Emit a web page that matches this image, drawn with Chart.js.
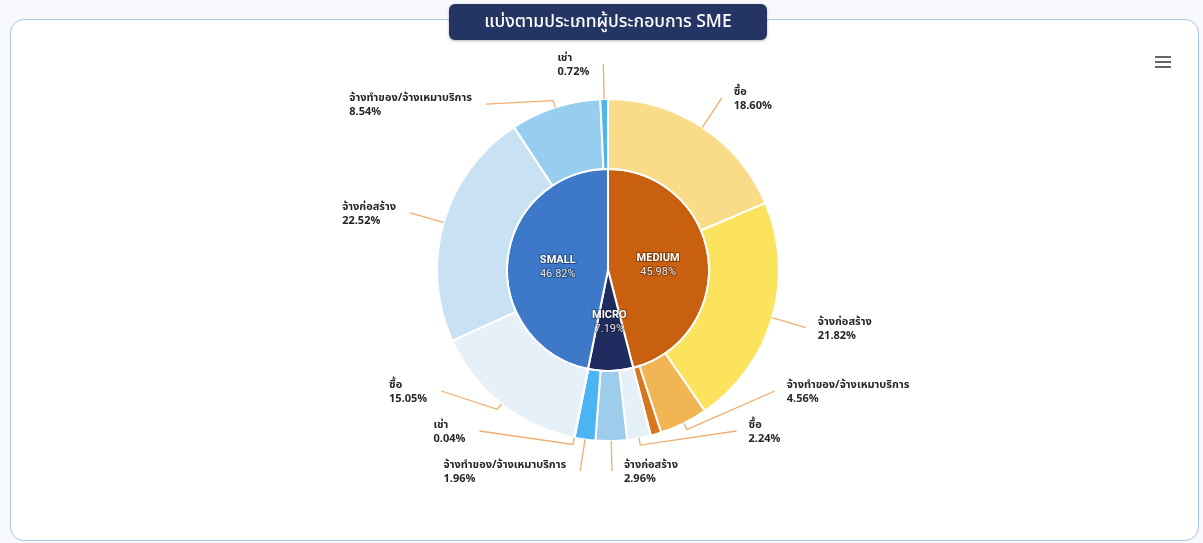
<!DOCTYPE html>
<html lang="th">
<head>
  <meta charset="UTF-8" />
  <title>SME Chart</title>
  <script src="https://cdn.jsdelivr.net/npm/chart.js"></script>
  <style>
    body {
      margin: 0;
      padding: 0;
      background-color: #f7f9fc;
      font-family: 'Noto Sans Thai', Tahoma, 'Noto Sans', sans-serif;
      width: 1203px;
      height: 543px;
      overflow: hidden;
      position: relative;
    }

    .card {
      position: absolute;
      left: 10px;
      top: 19px;
      width: 1187px;
      height: 520px;
      background: #ffffff;
      border: 1.5px solid #a9c6ee;
      border-radius: 14px;
    }

    .title {
      position: absolute;
      left: 449px;
      top: 4px;
      width: 318px;
      height: 36px;
      line-height: 36px;
      background: #243463;
      color: #ffffff;
      text-align: center;
      font-size: 17.5px;
      font-weight: 500;
      border-radius: 6px;
      box-shadow: 0 1px 3px rgba(0, 0, 0, 0.3);
      z-index: 3;
    }

    .menu {
      position: absolute;
      left: 1155px;
      top: 56px;
      width: 16px;
      z-index: 3;
    }

    .menu span {
      display: block;
      height: 2px;
      background: #666;
      margin-bottom: 3px;
    }

    #chartBox {
      position: absolute;
      left: 0;
      top: 0;
      width: 1203px;
      height: 543px;
      z-index: 2;
    }
  </style>
</head>
<body>

<div class="card"></div>
<div class="title">แบ่งตามประเภทผู้ประกอบการ SME</div>
<div class="menu"><span></span><span></span><span></span></div>
<div id="chartBox"><canvas id="smeChart"></canvas></div>

<script>
  // inner ring - business size
  const sizeNames = ['MEDIUM', 'MICRO', 'SMALL'];
  const sizeValues = [45.98, 7.19, 46.82];
  const sizeColors = ['#c9600f', '#1f2b5e', '#3d78c9'];

  // outer ring - procurement type per size (same order as inner ring)
  const typeNames = [
    'ซื้อ', 'จ้างก่อสร้าง', 'จ้างทำของ/จ้างเหมาบริการ', 'เช่า',
    'ซื้อ', 'จ้างก่อสร้าง', 'จ้างทำของ/จ้างเหมาบริการ', 'เช่า',
    'ซื้อ', 'จ้างก่อสร้าง', 'จ้างทำของ/จ้างเหมาบริการ', 'เช่า'
  ];
  const typeValues = [
    18.60, 21.82, 4.56, 1.00,
    2.24, 2.96, 1.96, 0.04,
    15.05, 22.52, 8.54, 0.72
  ];
  const typeColors = [
    '#fadc88', '#fce35d', '#f1b553', '#d8771d',
    '#e6f0f9', '#9ecdec', '#4bb5f3', '#4bb5f3',
    '#e6f0f9', '#c8e1f3', '#97cdee', '#4db5f0'
  ];
  // the small MEDIUM "เช่า" label is dropped in the original (overlap)
  const typeShowLabel = [
    true, true, true, false,
    true, true, true, true,
    true, true, true, true
  ];

  const labelFont = "bold 11px 'Noto Sans Thai', Tahoma, 'Noto Sans', sans-serif";
  const connectorColor = '#eeae6e';

  // highcharts-like outside labels with connectors
  const sliceLabels = {
    id: 'sliceLabels',
    afterDatasetsDraw(chart) {
      const ctx = chart.ctx;
      const outer = chart.getDatasetMeta(0);
      const inner = chart.getDatasetMeta(1);
      const dist = 35;
      const gap = 40;

      const items = [];
      outer.data.forEach((arc, i) => {
        if (!typeShowLabel[i]) return;
        const mid = (arc.startAngle + arc.endAngle) / 2;
        const R = arc.outerRadius;
        items.push({
          i, mid, R, cx: arc.x, cy: arc.y,
          left: Math.cos(mid) < 0,
          ny: arc.y + Math.sin(mid) * (R + dist)
        });
      });
      if (!items.length) return;
      const cy = items[0].cy;
      const minY = cy - items[0].R - dist - 2;
      const maxY = cy + items[0].R + 30;

      [true, false].forEach(side => {
        const list = items.filter(o => o.left === side).sort((a, b) => a.ny - b.ny);
        list.forEach((o, k) => {
          o.y = Math.max(o.ny, minY);
          if (k > 0) o.y = Math.max(o.y, list[k - 1].y + gap);
        });
        for (let k = list.length - 1; k >= 0; k--) {
          if (k === list.length - 1) list[k].y = Math.min(list[k].y, maxY);
          else list[k].y = Math.min(list[k].y, list[k + 1].y - gap);
        }
      });

      ctx.save();
      items.forEach(o => {
        const atEdge = Math.abs(o.y - maxY) < 1 || Math.abs(o.y - minY) < 1;
        const yy = atEdge ? o.ny : o.y;
        const rr = o.R + dist;
        const dx = Math.sqrt(Math.max(0, rr * rr - (yy - o.cy) * (yy - o.cy)));
        const lx = o.cx + (o.left ? -dx : dx);
        const ly = o.y;
        const cos = Math.cos(o.mid), sin = Math.sin(o.mid);

        ctx.strokeStyle = connectorColor;
        ctx.lineWidth = 1.3;
        ctx.beginPath();
        ctx.moveTo(lx, ly);
        ctx.lineTo(o.cx + cos * (o.R + 7), o.cy + sin * (o.R + 7));
        ctx.lineTo(o.cx + cos * o.R, o.cy + sin * o.R);
        ctx.stroke();

        const name = typeNames[o.i];
        const pct = typeValues[o.i].toFixed(2) + '%';
        ctx.font = labelFont;
        const w = Math.max(ctx.measureText(name).width, ctx.measureText(pct).width);
        const tx = o.left ? lx - 14 - w : lx + 12;
        ctx.fillStyle = '#262626';
        ctx.textAlign = 'left';
        ctx.textBaseline = 'middle';
        ctx.fillText(name, tx, ly - 5);
        ctx.fillText(pct, tx, ly + 9);
      });

      // inner labels
      inner.data.forEach((arc, i) => {
        const mid = (arc.startAngle + arc.endAngle) / 2;
        const r = arc.outerRadius * 0.5;
        const x = arc.x + Math.cos(mid) * r;
        const y = arc.y + Math.sin(mid) * r;
        ctx.textAlign = 'center';
        ctx.textBaseline = 'middle';
        ctx.lineJoin = 'round';
        ctx.font = "bold 11px Roboto, 'Noto Sans', sans-serif";
        ctx.strokeStyle = 'rgba(0,0,0,0.35)';
        ctx.lineWidth = 2;
        ctx.strokeText(sizeNames[i], x, y - 5);
        ctx.fillStyle = '#ffffff';
        ctx.fillText(sizeNames[i], x, y - 5);
        ctx.font = "11px Roboto, 'Noto Sans', sans-serif";
        const pct = sizeValues[i].toFixed(2) + '%';
        ctx.strokeText(pct, x, y + 9);
        ctx.fillStyle = '#e8e8e8';
        ctx.fillText(pct, x, y + 9);
      });
      ctx.restore();
    }
  };

  function renderChart() {
    new Chart(document.getElementById('smeChart'), {
      type: 'doughnut',
      data: {
        labels: typeNames,
        datasets: [
          {
            data: typeValues,
            backgroundColor: typeColors,
            borderColor: '#ffffff',
            borderWidth: 2,
            weight: 70
          },
          {
            data: sizeValues,
            backgroundColor: sizeColors,
            borderColor: '#ffffff',
            borderWidth: 2,
            weight: 101
          }
        ]
      },
      options: {
        responsive: false,
        animation: false,
        cutout: 0,
        layout: {
          padding: { left: 436, top: 98, right: 423, bottom: 101 }
        },
        plugins: {
          legend: { display: false },
          tooltip: { enabled: false }
        }
      },
      plugins: [sliceLabels]
    });
  }

  const canvas = document.getElementById('smeChart');
  canvas.width = 1203;
  canvas.height = 543;
  renderChart();
</script>
</body>
</html>
